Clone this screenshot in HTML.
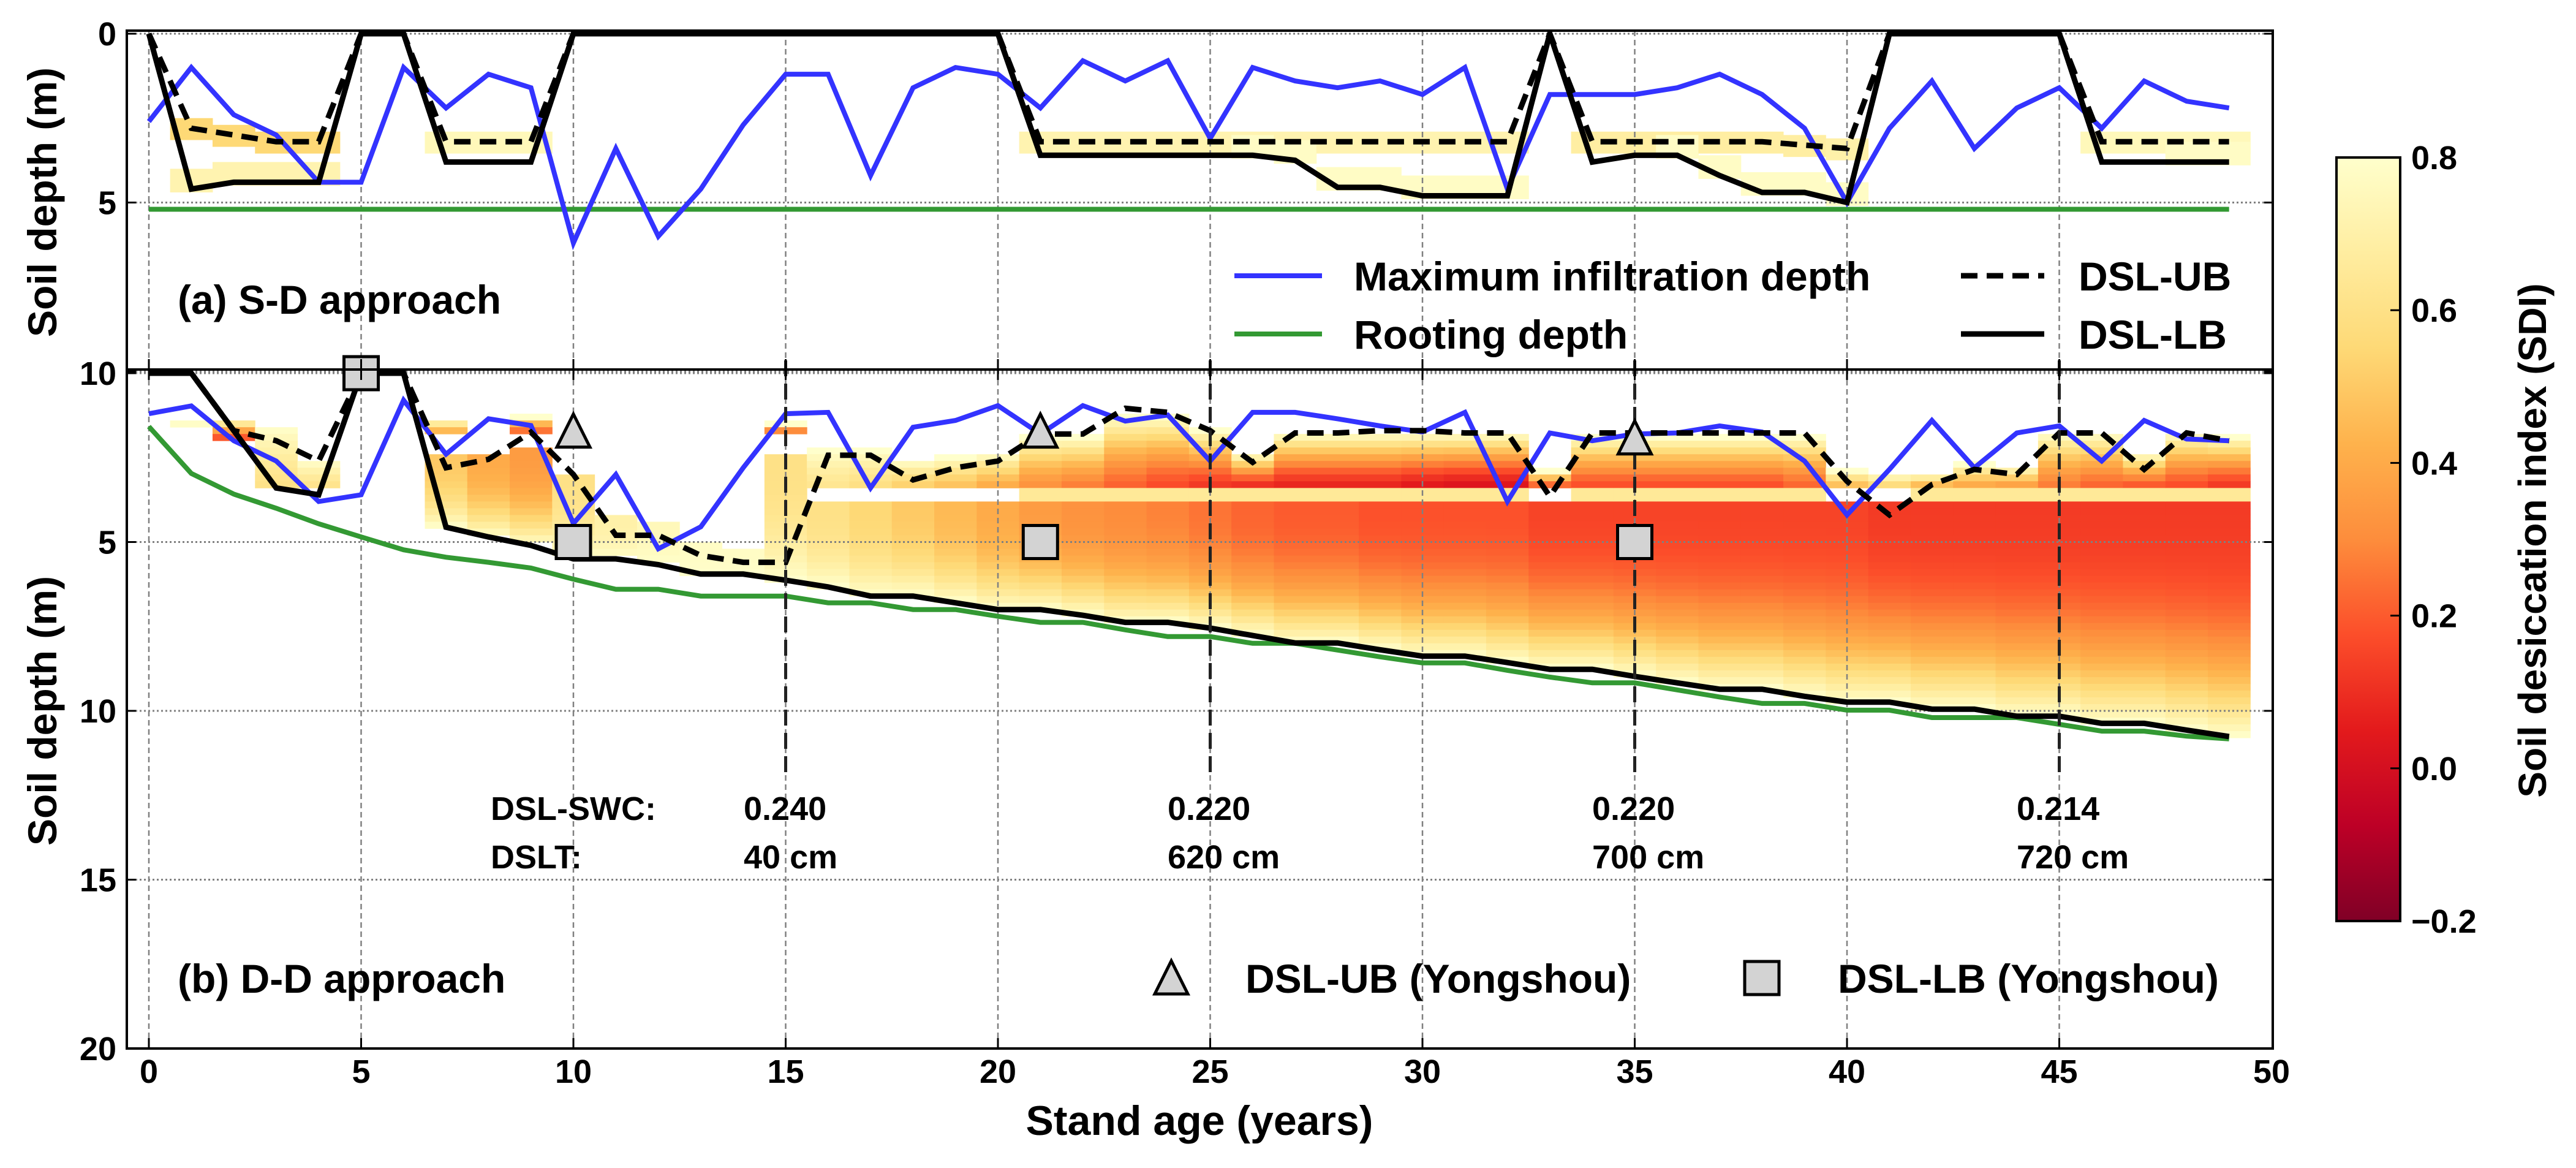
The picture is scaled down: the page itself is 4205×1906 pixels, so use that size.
<!DOCTYPE html>
<html><head><meta charset="utf-8">
<style>
html,body{margin:0;padding:0;background:#fff;}
svg{display:block;font-family:"Liberation Sans",Arial,sans-serif;font-weight:bold;}
</style></head>
<body>
<svg id="chart" width="4205" height="1906" viewBox="0 0 4205 1906" xmlns="http://www.w3.org/2000/svg">
<defs>
<clipPath id="clipTop"><rect x="207" y="50" width="3503" height="553"/></clipPath>
<clipPath id="clipBot"><rect x="207" y="603" width="3503" height="1108"/></clipPath>
<linearGradient id="cbGrad" x1="0" y1="1" x2="0" y2="0">
<stop offset="0" stop-color="#800026"/><stop offset="0.125" stop-color="#bd0026"/><stop offset="0.25" stop-color="#e31a1c"/><stop offset="0.375" stop-color="#fc4e2a"/><stop offset="0.5" stop-color="#fd8d3c"/><stop offset="0.625" stop-color="#feb24c"/><stop offset="0.75" stop-color="#fed976"/><stop offset="0.875" stop-color="#ffeda0"/><stop offset="1" stop-color="#ffffcc"/>
</linearGradient>
</defs>
<g id="heatTop" clip-path="url(#clipTop)"></g>
<g id="heatBot" clip-path="url(#clipBot)"></g>
<g id="grid"></g>
<g id="linesTop" clip-path="url(#clipTop)"></g>
<g id="linesBot" clip-path="url(#clipBot)"></g>
<g id="vlines"></g>
<g id="markers"></g>
<g id="axes"></g>

<text x="290" y="512" font-size="66">(a) S-D approach</text>
<text x="290" y="1620" font-size="66">(b) D-D approach</text>

<g>
<line x1="2015" y1="450" x2="2158" y2="450" stroke="#3333ff" stroke-width="8"/>
<text x="2210" y="474" font-size="66">Maximum infiltration depth</text>
<line x1="2015" y1="545" x2="2158" y2="545" stroke="#339933" stroke-width="8"/>
<text x="2210" y="569" font-size="66">Rooting depth</text>
<line x1="3201" y1="450" x2="3337" y2="450" stroke="#000" stroke-width="9" stroke-dasharray="27,15"/>
<text x="3393" y="474" font-size="66">DSL-UB</text>
<line x1="3201" y1="545" x2="3337" y2="545" stroke="#000" stroke-width="9"/>
<text x="3393" y="569" font-size="66">DSL-LB</text>
</g>

<g>
<polygon points="1912,1568 1885,1622 1939,1622" fill="#d3d3d3" stroke="#000" stroke-width="5"/>
<text x="2033" y="1620" font-size="66">DSL-UB (Yongshou)</text>
<rect x="2848" y="1569" width="56" height="54" fill="#d3d3d3" stroke="#000" stroke-width="5"/>
<text x="3000" y="1620" font-size="66">DSL-LB (Yongshou)</text>
</g>

<g font-size="54">
<text x="801" y="1338">DSL-SWC:</text>
<text x="801" y="1417">DSLT:</text>
<text x="1214" y="1338">0.240</text>
<text x="1214" y="1417">40 cm</text>
<text x="1906" y="1338">0.220</text>
<text x="1906" y="1417">620 cm</text>
<text x="2599" y="1338">0.220</text>
<text x="2599" y="1417">700 cm</text>
<text x="3292" y="1338">0.214</text>
<text x="3292" y="1417">720 cm</text>
</g>

<text x="1958" y="1852" font-size="68" text-anchor="middle">Stand age (years)</text>
<text transform="translate(92,330) rotate(-90)" font-size="66" text-anchor="middle">Soil depth (m)</text>
<text transform="translate(92,1160) rotate(-90)" font-size="66" text-anchor="middle">Soil depth (m)</text>

<g>
<rect x="3814" y="257" width="104" height="1246" fill="url(#cbGrad)" stroke="#000" stroke-width="4"/>
<g id="cbTicks"></g>
<text transform="translate(4156,882) rotate(-90)" font-size="64" text-anchor="middle">Soil desiccation index (SDI)</text>
</g>
</svg>
<script>
const years=[0,1,2,3,4,5,6,7,8,9,10,11,12,13,14,15,16,17,18,19,20,21,22,23,24,25,26,27,28,29,30,31,32,33,34,35,36,37,38,39,40,41,42,43,44,45,46,47,48,49];
const topBlue=[2.6,1.0,2.4,3.0,4.4,4.4,1.0,2.2,1.2,1.6,6.2,3.4,6.0,4.6,2.7,1.2,1.2,4.2,1.6,1.0,1.2,2.2,0.8,1.4,0.8,3.1,1.0,1.4,1.6,1.4,1.8,1.0,4.6,1.8,1.8,1.8,1.6,1.2,1.8,2.8,5.0,2.8,1.4,3.4,2.2,1.6,2.8,1.4,2.0,2.2];
const topUB=[0,2.8,3.0,3.2,3.2,0,0,3.2,3.2,3.2,0,0,0,0,0,0,0,0,0,0,0,3.2,3.2,3.2,3.2,3.2,3.2,3.2,3.2,3.2,3.2,3.2,3.2,0,3.2,3.2,3.2,3.2,3.2,3.3,3.4,0,0,0,0,0,3.2,3.2,3.2,3.2];
const topLB=[0,4.6,4.4,4.4,4.4,0,0,3.8,3.8,3.8,0,0,0,0,0,0,0,0,0,0,0,3.6,3.6,3.6,3.6,3.6,3.6,3.75,4.55,4.55,4.8,4.8,4.8,0,3.8,3.6,3.6,4.2,4.7,4.7,5.0,0,0,0,0,0,3.8,3.8,3.8,3.8];
const topRoot=[5.2,5.2,5.2,5.2,5.2,5.2,5.2,5.2,5.2,5.2,5.2,5.2,5.2,5.2,5.2,5.2,5.2,5.2,5.2,5.2,5.2,5.2,5.2,5.2,5.2,5.2,5.2,5.2,5.2,5.2,5.2,5.2,5.2,5.2,5.2,5.2,5.2,5.2,5.2,5.2,5.2,5.2,5.2,5.2,5.2,5.2,5.2,5.2,5.2,5.2];
const topHeatUB=[null,0.55,0.55,0.55,0.55,null,null,0.75,0.75,0.75,null,null,null,null,null,null,null,null,null,null,null,0.72,0.72,0.72,0.72,0.72,0.72,0.72,0.72,0.72,0.72,0.72,0.72,null,0.68,0.68,0.68,0.68,0.68,0.68,0.7,null,null,null,null,null,0.75,0.75,0.75,0.75];
const topHeatLB=[null,0.72,0.72,0.72,0.72,null,null,null,null,null,null,null,null,null,null,null,null,null,null,null,null,null,null,null,null,null,0.78,0.78,0.78,0.78,0.78,0.78,0.78,null,null,null,0.78,0.78,0.78,0.78,0.78,null,null,null,null,null,null,null,0.78,0.78];
const botBlue=[1.2,0.97,2.0,2.6,3.8,3.6,0.8,2.4,1.35,1.55,4.45,3.0,5.2,4.55,2.8,1.2,1.16,3.4,1.6,1.4,0.96,1.8,0.96,1.42,1.24,2.6,1.16,1.16,1.35,1.56,1.74,1.16,3.8,1.77,2.0,1.8,1.77,1.56,1.74,2.6,4.2,2.85,1.4,2.8,1.77,1.56,2.6,1.4,1.95,2.0];
const botUB=[0,0,1.7,2.0,2.6,0,0,2.8,2.55,1.75,3.0,4.8,4.8,5.4,5.6,5.6,2.43,2.43,3.16,2.8,2.6,1.8,1.8,1.04,1.16,1.7,2.64,1.77,1.77,1.7,1.7,1.77,1.77,3.65,1.77,1.77,1.77,1.77,1.77,1.77,3.2,4.2,3.3,2.85,3.0,1.77,1.77,2.85,1.77,2.0];
const botLB=[0,0,1.7,3.4,3.6,0,0,4.56,4.85,5.1,5.5,5.5,5.67,5.95,5.95,6.13,6.33,6.6,6.6,6.8,7.0,7.0,7.17,7.38,7.38,7.55,7.77,7.99,7.99,8.19,8.38,8.38,8.57,8.77,8.77,8.98,9.17,9.36,9.36,9.57,9.74,9.74,9.95,9.95,10.16,10.16,10.37,10.37,10.57,10.76];
const botRoot=[1.58,2.97,3.58,4.0,4.46,4.85,5.23,5.45,5.6,5.77,6.1,6.4,6.4,6.6,6.6,6.6,6.8,6.8,7.0,7.0,7.2,7.38,7.38,7.6,7.8,7.8,8.0,8.0,8.2,8.4,8.58,8.58,8.8,9.0,9.17,9.17,9.38,9.59,9.78,9.78,9.98,9.98,10.2,10.2,10.2,10.4,10.6,10.6,10.75,10.83];
const shTop=[null,1.4,1.4,1.6,2.6,null,null,1.4,null,1.3,null,null,null,null,null,1.5,2.3,2.3,2.6,2.5,2.4,1.9,1.9,1.3,1.3,1.7,2.4,1.8,1.8,1.8,1.8,1.8,1.8,2.9,1.9,1.9,1.9,1.9,1.9,1.9,2.9,3.0,3.0,2.7,2.8,1.8,1.8,2.4,1.8,1.9];
const shBot=[null,1.6,2.0,3.5,3.5,null,null,1.8,null,1.7,null,null,null,null,null,1.7,3.5,3.5,3.5,3.5,3.5,3.5,3.5,3.5,3.5,3.5,3.5,3.5,3.5,3.5,3.5,3.5,3.5,3.5,3.5,3.5,3.5,3.5,3.5,3.5,3.5,3.5,3.5,3.5,3.5,3.5,3.5,3.5,3.5,3.5];
const shMin=[null,0.78,0.15,0.6,0.6,null,null,0.4,null,0.25,null,null,null,null,null,0.3,0.62,0.58,0.5,0.45,0.38,0.3,0.25,0.2,0.15,0.1,0.05,0.05,0.05,0.05,0.02,0.0,0.0,0.1,0.15,0.15,0.15,0.15,0.15,0.2,0.4,0.5,0.35,0.35,0.3,0.25,0.2,0.15,0.15,0.1];
const stripeVal=[null,null,null,null,null,null,null,null,null,null,null,null,null,null,null,null,null,null,null,null,null,0.65,0.65,0.65,0.65,0.65,0.65,0.65,0.65,0.65,0.65,0.65,0.65,null,0.65,0.65,0.65,0.65,0.65,0.65,null,null,0.65,0.65,0.65,0.65,0.65,0.65,0.65,0.65];
const dpTop=[null,null,null,null,null,null,null,2.4,2.4,2.3,3.0,4.3,4.5,5.0,5.3,2.5,3.9,3.9,3.9,3.9,3.9,3.9,3.9,3.9,3.9,3.9,3.9,3.9,3.9,3.9,3.9,3.9,3.9,3.9,3.9,3.9,3.9,3.9,3.9,3.9,3.9,3.9,3.9,3.9,3.9,3.9,3.9,3.9,3.9,3.9];
const dpMin=[null,null,null,null,null,null,null,0.5,0.4,0.35,0.6,0.7,0.75,0.78,0.78,0.6,0.6,0.55,0.5,0.45,0.4,0.35,0.32,0.3,0.28,0.25,0.22,0.2,0.2,0.18,0.18,0.18,0.18,0.15,0.15,0.15,0.15,0.15,0.15,0.15,0.15,0.13,0.13,0.13,0.13,0.13,0.13,0.13,0.13,0.13];
const ubMarkX=[10,21,35];
const ubMarkY=[1.7,1.7,1.9];
const lbMarkX=[5,10,21,35];
const lbMarkY=[0,5,5,5];
const dslLineX=[15,25,35,45];
const xTicks=[0,5,10,15,20,25,30,35,40,45,50];
const topYTicks=[0,5,10];
const botYTicks=[0,5,10,15,20];
const botYTickLabels=["10","5","10","15","20"];
const cbTicks=[0.8,0.6,0.4,0.2,0.0,-0.2];
const cbTickLabels=["0.8","0.6","0.4","0.2","0.0","\u22120.2"];

const NS="http://www.w3.org/2000/svg";
const xs=v=>243+v*69.3;
const yT=d=>55+d*55.1;
const yB=d=>609+d*55.1;
const cbY=v=>1503-(v+0.2)/1.0*1246;
const CM=["#ffffcc","#ffeda0","#fed976","#feb24c","#fd8d3c","#fc4e2a","#e31a1c","#bd0026","#800026"];
function hex(c){return [1,3,5].map(i=>parseInt(c.substr(i,2),16));}
function cmap(v){let t=(0.8-v)/1.0;t=Math.max(0,Math.min(1,t))*8;const i=Math.min(7,Math.floor(t)),f=t-i;const a=hex(CM[i]),b=hex(CM[i+1]);return "rgb("+a.map((x,k)=>Math.round(x+(b[k]-x)*f)).join(",")+")";}
function mk(tag,attrs,parent){const e=document.createElementNS(NS,tag);for(const k in attrs)e.setAttribute(k,attrs[k]);parent.appendChild(e);return e;}
const $=id=>document.getElementById(id);

years.forEach((yr,j)=>{
  if(topHeatUB[j]!==null){
    const r=mk("rect",{x:xs(yr-0.5),y:yT(topUB[j]-0.3),width:69.8,height:0.65*55.1,fill:cmap(topHeatUB[j])},$("heatTop"));
    
    
  }
  if(topHeatLB[j]!==null){
    const r=mk("rect",{x:xs(yr-0.5),y:yT(topLB[j]-0.6),width:69.8,height:0.7*55.1,fill:cmap(topHeatLB[j])},$("heatTop"));
    
    
  }
});
years.forEach((yr,j)=>{
  for(let d=0;d<11;d+=0.2){
    const c=d+0.1;let v=null;
    if(shTop[j]!==null&&c>=shTop[j]&&c<=shBot[j]){const f=(c-shTop[j])/(shBot[j]-shTop[j]);v=shMin[j]+(0.8-shMin[j])*Math.pow(1-f,1.5);}
    if(stripeVal[j]!==null&&c>3.5&&c<3.9)v=stripeVal[j];
    if(dpTop[j]!==null&&c>=dpTop[j]&&c<=botLB[j]){const f=(c-dpTop[j])/(botLB[j]-dpTop[j]);v=dpMin[j]+(0.8-dpMin[j])*Math.pow(f,2.5);}
    if(v===null)continue;
    const r=mk("rect",{x:xs(yr-0.5),y:yB(d),width:69.8,height:11.5,fill:cmap(v)},$("heatBot"));
    
    
  }
});
xTicks.slice(0,10).forEach(t=>{
  const l=mk("line",{x1:xs(t),y1:50,x2:xs(t),y2:1711,stroke:"#808080","stroke-width":2.5,"stroke-dasharray":"9,6"},$("grid"));
  
  
});
topYTicks.forEach(t=>{
  const l=mk("line",{x1:207,y1:yT(t),x2:3710,y2:yT(t),stroke:"#808080","stroke-width":3,"stroke-dasharray":"3,4"},$("grid"));
  
  
});
botYTicks.forEach(t=>{
  const l=mk("line",{x1:207,y1:yB(t),x2:3710,y2:yB(t),stroke:"#808080","stroke-width":3,"stroke-dasharray":"3,4"},$("grid"));
  
  
});
function poly(vals,yf,g,style,name){
  const pts=years.map((yr,j)=>xs(yr).toFixed(1)+","+yf(vals[j]).toFixed(1)).join(" ");
  const p=mk("polyline",Object.assign({points:pts,fill:"none","stroke-linejoin":"miter"},style),g);
  
  
}
poly(topRoot,yT,$("linesTop"),{stroke:"#339933","stroke-width":8},"top-rooting-depth-line");
poly(topBlue,yT,$("linesTop"),{stroke:"#3333ff","stroke-width":8},"top-max-infiltration-line");
poly(topUB,yT,$("linesTop"),{stroke:"#000","stroke-width":9,"stroke-dasharray":"27,15"},"top-dsl-ub-line");
poly(topLB,yT,$("linesTop"),{stroke:"#000","stroke-width":9},"top-dsl-lb-line");
poly(botRoot,yB,$("linesBot"),{stroke:"#339933","stroke-width":8},"bottom-rooting-depth-line");
poly(botBlue,yB,$("linesBot"),{stroke:"#3333ff","stroke-width":8},"bottom-max-infiltration-line");
poly(botUB,yB,$("linesBot"),{stroke:"#000","stroke-width":9,"stroke-dasharray":"27,15"},"bottom-dsl-ub-line");
poly(botLB,yB,$("linesBot"),{stroke:"#000","stroke-width":9},"bottom-dsl-lb-line");
dslLineX.forEach(t=>{
  const l=mk("line",{x1:xs(t),y1:588,x2:xs(t),y2:yB(11.95),stroke:"#222","stroke-width":5,"stroke-dasharray":"26,12"},$("vlines"));
  
  
});
ubMarkX.forEach((x,i)=>{
  const cx=xs(x),cy=yB(ubMarkY[i]);
  const p=mk("polygon",{points:`${cx},${cy-27} ${cx-27},${cy+27} ${cx+27},${cy+27}`,fill:"#d3d3d3",stroke:"#000","stroke-width":5},$("markers"));
  
  
});
lbMarkX.forEach((x,i)=>{
  const cx=xs(x),cy=yB(lbMarkY[i]);
  const r=mk("rect",{x:cx-28,y:cy-27,width:56,height:54,fill:"#d3d3d3",stroke:"#000","stroke-width":5},$("markers"));
  
  
});
const ax=$("axes");
[[207,50,3503,553],[207,603,3503,1108]].forEach(b=>{
  const r=mk("rect",{x:b[0],y:b[1],width:b[2],height:b[3],fill:"none",stroke:"#000","stroke-width":4},ax);
  
  
});
xTicks.forEach(t=>{
  if(t<50){
    mk("line",{x1:xs(t),y1:1711,x2:xs(t),y2:1694,stroke:"#000","stroke-width":3},ax);
    mk("line",{x1:xs(t),y1:603,x2:xs(t),y2:586,stroke:"#000","stroke-width":3},ax);
    mk("line",{x1:xs(t),y1:603,x2:xs(t),y2:620,stroke:"#000","stroke-width":3},ax);
  }
  const tx=mk("text",{x:xs(t),y:1767,"font-size":54,"text-anchor":"middle"},ax);
  tx.textContent=t;
  
  
});
topYTicks.forEach(t=>{
  mk("line",{x1:207,y1:yT(t),x2:222,y2:yT(t),stroke:"#000","stroke-width":3},ax);
  mk("line",{x1:3710,y1:yT(t),x2:3696,y2:yT(t),stroke:"#000","stroke-width":3},ax);
  if(t<10){const tx=mk("text",{x:190,y:yT(t)+19,"font-size":54,"text-anchor":"end"},ax);
  tx.textContent=t;
  
  }
});
botYTicks.forEach((t,i)=>{
  mk("line",{x1:207,y1:yB(t),x2:222,y2:yB(t),stroke:"#000","stroke-width":3},ax);
  mk("line",{x1:3710,y1:yB(t),x2:3696,y2:yB(t),stroke:"#000","stroke-width":3},ax);
  const tx=mk("text",{x:190,y:yB(t)+19,"font-size":54,"text-anchor":"end"},ax);
  tx.textContent=botYTickLabels[i];
  
  
});
cbTicks.forEach((v,i)=>{
  const y=cbY(v);
  if(i>0&&i<cbTicks.length-1)mk("line",{x1:3916,y1:y,x2:3902,y2:y,stroke:"#000","stroke-width":3},$("cbTicks"));
  const tx=mk("text",{x:3936,y:y+19,"font-size":54},$("cbTicks"));
  tx.textContent=cbTickLabels[i];
  
  
});
</script>
</body></html>
